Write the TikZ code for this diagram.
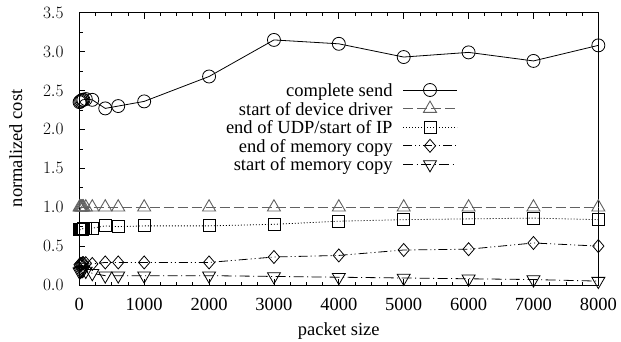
\documentclass[tikz,border=0pt]{standalone}
\usepackage{fontspec}
\setmainfont{Liberation Serif}
\usetikzlibrary{plotmarks}

\tikzset{
  axisline/.style={line width=0.9pt, black},
  ticklabel/.style={inner sep=0pt},
  sendline/.style={line width=0.8pt, black},
  driverline/.style={line width=1pt, black!62, dash pattern=on 10pt off 4pt},
  udpline/.style={line width=0.8pt, black, dash pattern=on 1pt off 2pt},
  endcopyline/.style={line width=0.8pt, black, dash pattern=on 9pt off 3pt on 1pt off 3pt on 1pt off 3pt},
  startcopyline/.style={line width=0.8pt, black, dash pattern=on 10pt off 3.5pt on 1pt off 3.5pt},
  sendmark/.style={mark=o, mark size=6.5pt, mark options={solid, line width=0.8pt}},
  drivermark/.style={mark=triangle, mark size=7.5pt, mark options={solid, line width=0.9pt}},
  udpmark/.style={mark=square, mark size=6pt, mark options={solid, line width=0.8pt}},
  endcopymark/.style={mark=diamond, mark size=6.5pt, mark options={solid, line width=0.8pt, xscale=1.15}},
  startcopymark/.style={mark=triangle, mark size=7.5pt, mark options={solid, line width=0.8pt, rotate=180}},
  legendtext/.style={anchor=base east, inner sep=0pt}
}

\begin{document}
\begin{tikzpicture}[x=1pt, y=1pt, font=\fontsize{18.5}{21}\selectfont]
\useasboundingbox (0,0) rectangle (621,341);

% plot area: data coordinates (packet size, normalized cost)
\begin{scope}[shift={(79.3,56)}, x=0.064875pt, y=77.8pt]
  % x ticks, bottom and top
  \foreach \xx in {250,500,...,7750} {
    \draw[line width=0.7pt] (\xx,0) -- ++(0pt,3.5pt);
    \draw[line width=0.7pt] (\xx,3.5) -- ++(0pt,-3.5pt);
  }
  \foreach \xx in {0,1000,...,8000} {
    \draw[line width=0.8pt] (\xx,0) -- ++(0pt,6pt);
    \draw[line width=0.8pt] (\xx,3.5) -- ++(0pt,-6pt);
    \node[ticklabel, anchor=base] (xl\xx) at ([yshift=-25pt]\xx,0) {\xx};
  }
  % y ticks, left side
  \foreach \yy in {0.25,0.5,...,3.25} {
    \draw[line width=0.7pt] (0,\yy) -- ++(3.5pt,0pt);
  }
  \foreach \yy [count=\k] in {0,0.5,...,3.5} {
    \draw[line width=0.8pt] (0,\yy) -- ++(6pt,0pt);
    \node[ticklabel, anchor=east] (yl\k) at ([xshift=-15.5pt]0,\yy)
      {\pgfmathprintnumber[fixed,fixed zerofill,precision=1]{\yy}};
  }
  \draw[axisline] (0,0) rectangle (8000,3.5);

  % complete send
  \draw[sendline] plot[sendmark] coordinates {
    (4,2.35) (16,2.36) (32,2.37) (48,2.38) (64,2.38) (100,2.39)
    (200,2.38) (400,2.27) (600,2.30) (1000,2.36) (2000,2.68)
    (3000,3.15) (4000,3.10) (5000,2.93) (6000,2.99) (7000,2.88) (8000,3.08)};
  % start of device driver
  \draw[driverline] plot[drivermark] coordinates {
    (4,1) (16,1) (32,1) (48,1) (64,1) (100,1)
    (200,1) (400,1) (600,1) (1000,1) (2000,1)
    (3000,1) (4000,1) (5000,1) (6000,1) (7000,1) (8000,1)};
  % end of UDP / start of IP
  \draw[udpline] plot[udpmark] coordinates {
    (4,0.71) (16,0.71) (32,0.72) (48,0.72) (64,0.73) (100,0.73)
    (200,0.73) (400,0.76) (600,0.75) (1000,0.76) (2000,0.76)
    (3000,0.78) (4000,0.82) (5000,0.84) (6000,0.85) (7000,0.86) (8000,0.84)};
  % end of memory copy
  \draw[endcopyline] plot[endcopymark] coordinates {
    (4,0.26) (16,0.27) (32,0.27) (48,0.28) (64,0.28) (100,0.28)
    (200,0.27) (400,0.29) (600,0.29) (1000,0.29) (2000,0.29)
    (3000,0.36) (4000,0.38) (5000,0.45) (6000,0.46) (7000,0.54) (8000,0.50)};
  % start of memory copy
  \draw[startcopyline] plot[startcopymark] coordinates {
    (4,0.17) (16,0.18) (32,0.19) (48,0.19) (64,0.20) (100,0.18)
    (200,0.15) (400,0.12) (600,0.12) (1000,0.12) (2000,0.12)
    (3000,0.11) (4000,0.10) (5000,0.09) (6000,0.08) (7000,0.07) (8000,0.05)};
\end{scope}

% axis titles
\node[inner sep=0pt, anchor=base] (xtitle) at (338.8,6) {packet size};
\node[inner sep=0pt, anchor=base, rotate=90] (ytitle) at (22,192.7) {normalized cost};

% legend
\node[legendtext] (lg1) at (392.7,244.5) {complete send};
\node[legendtext] (lg2) at (392.7,225.9) {start of device driver};
\node[legendtext] (lg3) at (392.7,207.3) {end of UDP/start of IP};
\node[legendtext] (lg4) at (392.7,188.7) {end of memory copy};
\node[legendtext] (lg5) at (392.7,170.1) {start of memory copy};

\draw[sendline] (403,251) -- (457,251);
\draw[sendline] plot[sendmark] coordinates {(430,251)};
\draw[driverline] (403,232.4) -- (457,232.4);
\draw[driverline] plot[drivermark] coordinates {(430,232.4)};
\draw[udpline] (403,213.8) -- (457,213.8);
\draw[udpline] plot[udpmark] coordinates {(430,213.8)};
\draw[endcopyline] (403,195.2) -- (457,195.2);
\draw[endcopyline] plot[endcopymark] coordinates {(430,195.2)};
\draw[startcopyline] (403,176.6) -- (457,176.6);
\draw[startcopyline] plot[startcopymark] coordinates {(430,176.6)};
\end{tikzpicture}
\end{document}
